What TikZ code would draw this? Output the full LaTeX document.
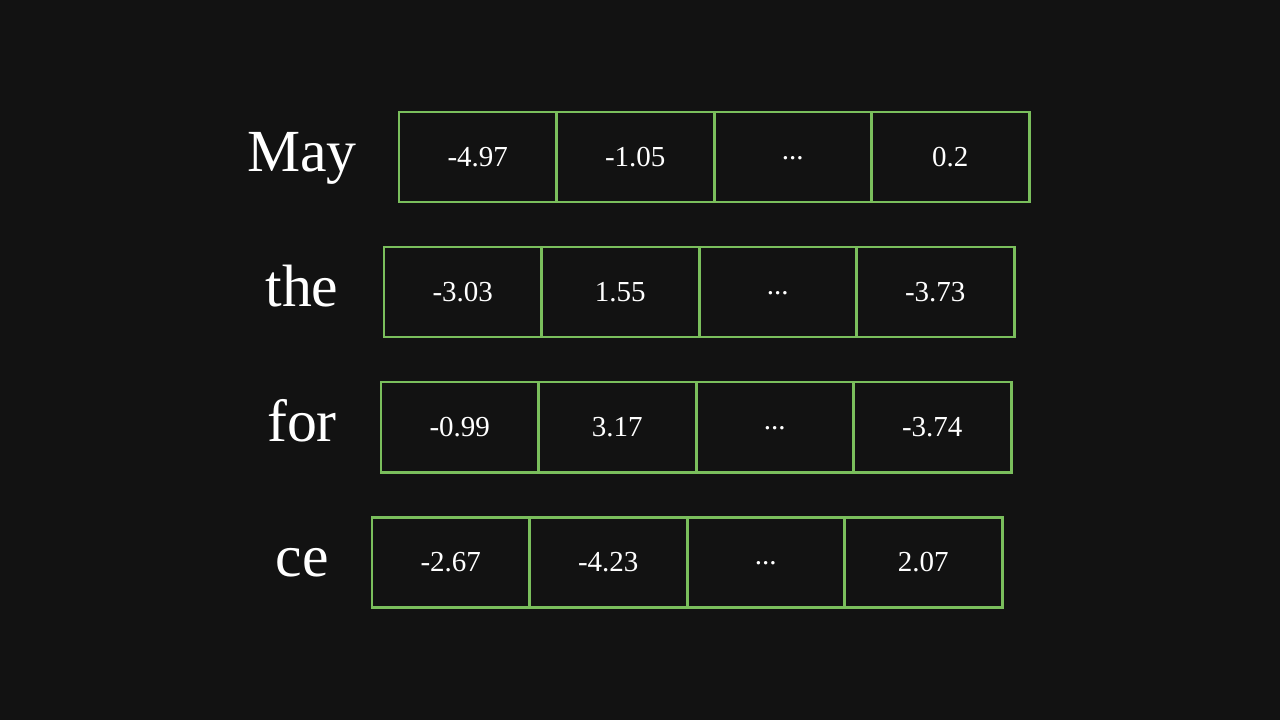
\documentclass[tikz,border=0pt]{standalone}
\usepackage{fontspec}
\setmainfont{Liberation Serif}
\definecolor{bgdark}{HTML}{121212}
\definecolor{cellgreen}{HTML}{7ABE5C}
\newcommand{\middots}{\raisebox{0.27em}{...}}

\begin{document}
\begin{tikzpicture}[
  cell/.style={draw=cellgreen, line width=1.7pt, minimum width=3.15cm, minimum height=1.8cm,
    inner sep=0pt, text height=11.2pt, text depth=0pt, text=white, font=\fontsize{16.5}{18}\selectfont},
  word/.style={anchor=base, text=white, inner sep=0pt, font=\fontsize{34}{38}\selectfont}
]
\fill[bgdark] (0,0) rectangle (25.6,-14.4);
\useasboundingbox (0,0) rectangle (25.6,-14.4);

% row 1
\node[word] (w1) at (6.04,-3.42) {May};
\node[cell] (c11) at (9.555,-3.14) {-4.97};
\node[cell] (c12) at (12.705,-3.14) {-1.05};
\node[cell] (c13) at (15.855,-3.14) {\middots};
\node[cell] (c14) at (19.005,-3.14) {0.2};

% row 2
\node[word] (w2) at (6.04,-6.12) {the};
\node[cell] (c21) at (9.255,-5.84) {-3.03};
\node[cell] (c22) at (12.405,-5.84) {1.55};
\node[cell] (c23) at (15.555,-5.84) {\middots};
\node[cell] (c24) at (18.705,-5.84) {-3.73};

% row 3
\node[word] (w3) at (6.04,-8.82) {for};
\node[cell] (c31) at (9.195,-8.54) {-0.99};
\node[cell] (c32) at (12.345,-8.54) {3.17};
\node[cell] (c33) at (15.495,-8.54) {\middots};
\node[cell] (c34) at (18.645,-8.54) {-3.74};

% row 4
\node[word] (w4) at (6.04,-11.52) {ce};
\node[cell] (c41) at (9.015,-11.24) {-2.67};
\node[cell] (c42) at (12.165,-11.24) {-4.23};
\node[cell] (c43) at (15.315,-11.24) {\middots};
\node[cell] (c44) at (18.465,-11.24) {2.07};
\end{tikzpicture}
\end{document}
